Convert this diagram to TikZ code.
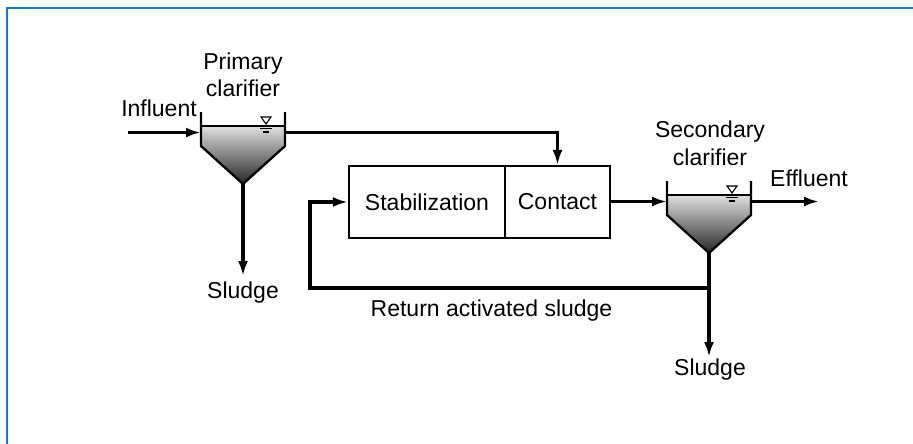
\documentclass[tikz,border=0pt]{standalone}
\usepackage{fontspec}
\setmainfont{Liberation Sans}
\usetikzlibrary{arrows.meta}
\definecolor{frameblue}{HTML}{1B7BC0}
\begin{document}
\begin{tikzpicture}[x=1pt,y=-1pt,
  flow/.style={line width=3.3pt,-{Latex[length=15pt,width=10pt]}},
  wall/.style={line width=2.3pt,line join=miter},
  lbl/.style={font=\fontsize{23}{25}\selectfont,inner sep=0pt,anchor=base},
  unitbox/.style={draw,line width=2.1pt,minimum height=72pt,inner sep=0pt,
    font=\fontsize{23}{25}\selectfont},
  clarifier/.pic={
    \fill[top color=gray!25,bottom color=black!85,draw=none]
      (-42,0) -- (42,0) -- (42,20) -- (0,58) -- (-42,20) -- cycle;
    \draw[wall] (-42,-14) -- (-42,20) -- (0,58) -- (42,20) -- (42,-14);
    \draw[line width=1.2pt] (-42,0) -- (42,0);
    \draw[line width=1.1pt,fill=white] (18,-9) -- (28,-9) -- (23,-2) -- cycle;
    \draw[line width=1.1pt] (17,2.5) -- (29,2.5);
    \draw[line width=1.1pt] (20,6) -- (26,6);
    \coordinate (-in) at (-42,6.5);
    \coordinate (-out) at (42,6.5);
    \coordinate (-apex) at (0,58);
  }]
\useasboundingbox (0,0) rectangle (913,444);
\fill[white] (0,0) rectangle (913,444);
\draw[frameblue,line width=2.6pt] (7,444) -- (7,8) -- (913,8);

% clarifiers
\pic (pc) at (243,126) {clarifier};
\pic (sc) at (709,195) {clarifier};

% reactor
\node[unitbox,minimum width=156pt] (stab) at (427,202) {Stabilization};
\node[unitbox,minimum width=105pt] (contact) at (557.5,202) {Contact};

% labels
\node[lbl] (lprim) at (243,70) {Primary};
\node[lbl] (lprimc) at (243,96.5) {clarifier};
\node[lbl] (linf) at (159,116.5) {Influent};
\node[lbl] (lsec) at (710,137.5) {Secondary};
\node[lbl] (lsecc) at (710,165) {clarifier};
\node[lbl] (leff) at (809,186) {Effluent};
\node[lbl] (lsl1) at (243,298.5) {Sludge};
\node[lbl] (lsl2) at (710,375) {Sludge};
\node[lbl] (lras) at (491.5,316.5) {Return activated sludge};

% connector ends
\coordinate (infstart) at (128,0 |- pc-in);
\coordinate (s1end) at (243,276);
\coordinate (effend) at (819,0 |- sc-out);
\coordinate (s2end) at (709,357);
\coordinate (rasjoin) at (709,288);
\coordinate (rascorner) at (310,288);

% connectors
\draw[flow] (infstart) -- (pc-in);
\draw[flow] (pc-out) -| (contact.north);
\draw[flow] (pc-apex) -- (s1end);
\draw[flow] (contact.east |- sc-in) -- (sc-in);
\draw[flow] (sc-out) -- (effend);
\draw[flow] (sc-apex) -- (s2end);
\draw[flow,line join=miter] (rasjoin) -- (rascorner) |- (stab.west);
\end{tikzpicture}
\end{document}
